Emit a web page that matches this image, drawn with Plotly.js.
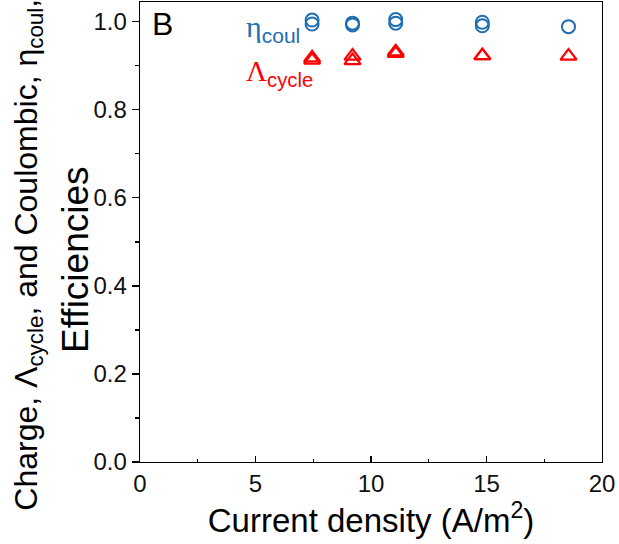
<!DOCTYPE html>
<html>
<head>
<meta charset="utf-8">
<script src="https://cdn.plot.ly/plotly-3.0.1.min.js"></script>
<style>html,body{margin:0;padding:0;background:#fff;}#chart{width:619px;height:544px;}</style>
</head>
<body>
<div id="chart"></div>
<script>
// Current density (A/m^2)
const currentDensity = [7.45, 7.45, 9.2, 9.2, 11.07, 11.07, 14.82, 14.82, 18.55];
// Coulombic efficiency, eta_coul
const etaCoul = [1.004, 0.995, 0.997, 0.993, 1.005, 0.997, 0.999, 0.991, 0.989];
// Charge efficiency, Lambda_cycle
const lambdaCycle = [0.918, 0.913, 0.922, 0.912, 0.932, 0.928, 0.923, 0.923, 0.922];

const blue = '#1f6db2';
const red = '#ff0000';
const FONT = 'Liberation Sans, Arial';

const traces = [
  {x: currentDensity, y: etaCoul, mode: 'markers', type: 'scatter', name: 'eta',
   marker: {symbol: 'circle-open', size: 13, color: blue, line: {width: 2, color: blue}}},
  {x: currentDensity, y: lambdaCycle, mode: 'markers', type: 'scatter', name: 'lambda',
   marker: {symbol: 'triangle-up-open', size: 14, color: red, line: {width: 2.2, color: red}}}
];

const axisCommon = {
  showgrid: false, zeroline: false, showline: true, linecolor: '#000', linewidth: 1.3,
  mirror: true, tickwidth: 1.2, tickcolor: '#000',
  tickfont: {family: FONT, size: 24, color: '#111'}
};

const layout = {
  width: 619, height: 544,
  margin: {l: 140, r: 17, t: 2, b: 82},
  paper_bgcolor: '#fff', plot_bgcolor: '#fff',
  showlegend: false,
  xaxis: Object.assign({}, axisCommon, {
    range: [0, 20], tickvals: [0, 5, 10, 15, 20], ticktext: ['0','5','10','15','20'],
    ticks: 'inside', ticklen: 6,
    minor: {ticks: 'inside', dtick: 2.5, ticklen: 3, tickcolor: '#000'},
    title: {text: 'Current density (A/m<sup>2</sup>)', font: {family: FONT, size: 33, color: '#000'}, standoff: 4}
  }),
  yaxis: Object.assign({}, axisCommon, {
    range: [0, 1.045], tickvals: [0, 0.2, 0.4, 0.6, 0.8, 1.0], ticktext: ['0.0','0.2','0.4','0.6','0.8','1.0'],
    ticks: 'outside', ticklen: 7,
    minor: {ticks: 'outside', dtick: 0.1, ticklen: 4, tickcolor: '#000'},
    title: {text: ''}
  }),
  annotations: [
    {xref: 'paper', yref: 'paper', x: -0.243, y: 0.45, xanchor: 'center', yanchor: 'middle', showarrow: false, textangle: -90,
     text: 'Charge, Λ<sub>cycle</sub>, and Coulombic, η<sub>coul</sub>,', font: {family: FONT, size: 32, color: '#000'}},
    {xref: 'paper', yref: 'paper', x: -0.14, y: 0.44, xanchor: 'center', yanchor: 'middle', showarrow: false, textangle: -90,
     text: 'Efficiencies', font: {family: FONT, size: 37, color: '#000'}},
    {xref: 'paper', yref: 'paper', x: 0.048, y: 0.953, xanchor: 'center', yanchor: 'middle', showarrow: false,
     text: 'B', font: {family: FONT, size: 32, color: '#000'}},
    {xref: 'paper', yref: 'paper', x: 0.226, y: 0.942, xanchor: 'left', yanchor: 'middle', showarrow: false,
     text: '<span style="font-family:Liberation Serif">η</span><sub>coul</sub>', font: {family: FONT, size: 30, color: blue}},
    {xref: 'paper', yref: 'paper', x: 0.226, y: 0.845, xanchor: 'left', yanchor: 'middle', showarrow: false,
     text: '<span style="font-family:Liberation Serif">Λ</span><sub>cycle</sub>', font: {family: FONT, size: 29, color: red}}
  ]
};

Plotly.newPlot('chart', traces, layout, {displayModeBar: false, staticPlot: true});
</script>
</body>
</html>
